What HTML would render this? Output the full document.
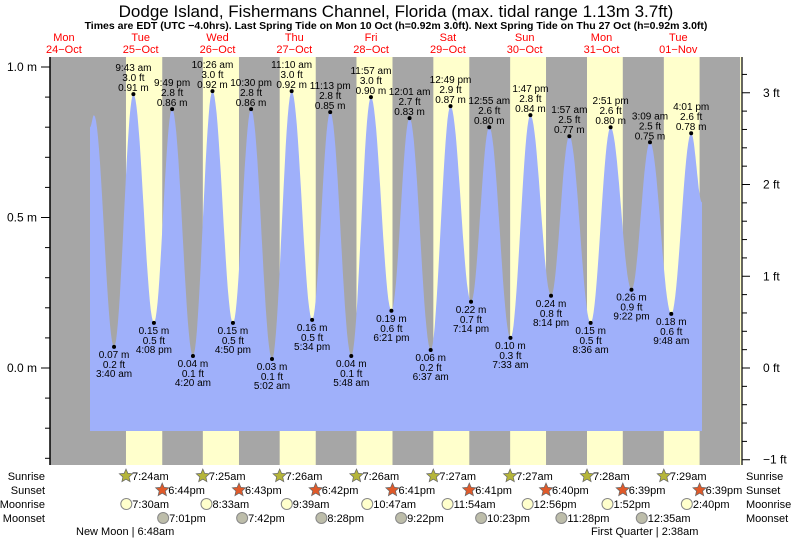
<!DOCTYPE html>
<html><head><meta charset="utf-8"><style>
body{margin:0;background:#fff;}
svg{display:block;font-family:"Liberation Sans",sans-serif;}
</style></head><body>
<svg id="c" width="793" height="539" viewBox="0 0 793 539">
<text x="396" y="17" font-size="17" text-anchor="middle" fill="#000">Dodge Island, Fishermans Channel, Florida (max. tidal range 1.13m 3.7ft)</text>
<text x="396" y="29" font-size="10.5" font-weight="bold" text-anchor="middle" fill="#000">Times are EDT (UTC −4.0hrs). Last Spring Tide on Mon 10 Oct (h=0.92m 3.0ft). Next Spring Tide on Thu 27 Oct (h=0.92m 3.0ft)</text>
<g id="bg"></g><g id="tide"></g><g id="axes"></g><g id="labels"></g><g id="bottom"></g>
</svg>
<script>
const dayNames=["Mon","Tue","Wed","Thu","Fri","Sat","Sun","Mon","Tue"];
const dayDates=["24−Oct","25−Oct","26−Oct","27−Oct","28−Oct","29−Oct","30−Oct","31−Oct","01−Nov"];
// tide extremes: hours since Oct 24 00:00, heights (m)
const tideHours=[20.16,21.4,27.67,33.72,40.13,45.82,52.33,58.43,64.83,70.5,77.03,83.17,89.57,95.22,101.8,107.95,114.35,120.02,126.62,132.82,139.23,144.92,151.55,157.78,164.23,169.95,176.6,182.85,189.37,195.15,201.8,208.02,211.4];
const tideHeights=[0.80,0.84,0.07,0.91,0.15,0.86,0.04,0.92,0.15,0.86,0.03,0.92,0.16,0.85,0.04,0.90,0.19,0.83,0.06,0.87,0.22,0.80,0.10,0.84,0.24,0.77,0.15,0.80,0.26,0.75,0.18,0.78,0.55];
const tideLabelIdx=[2,3,4,5,6,7,8,9,10,11,12,13,14,15,16,17,18,19,20,21,22,23,24,25,26,27,28,29,30,31];
const tideTimes=["3:40 am","9:43 am","4:08 pm","9:49 pm","4:20 am","10:26 am","4:50 pm","10:30 pm","5:02 am","11:10 am","5:34 pm","11:13 pm","5:48 am","11:57 am","6:21 pm","12:01 am","6:37 am","12:49 pm","7:14 pm","12:55 am","7:33 am","1:47 pm","8:14 pm","1:57 am","8:36 am","2:51 pm","9:22 pm","3:09 am","9:48 am","4:01 pm"];
const tideFt=["0.2","3.0","0.5","2.8","0.1","3.0","0.5","2.8","0.1","3.0","0.5","2.8","0.1","3.0","0.6","2.7","0.2","2.9","0.7","2.6","0.3","2.8","0.8","2.5","0.5","2.6","0.9","2.5","0.6","2.6"];
const sunrise=["7:24am","7:25am","7:26am","7:26am","7:27am","7:27am","7:28am","7:29am"];
const sunset=["6:44pm","6:43pm","6:42pm","6:41pm","6:41pm","6:40pm","6:39pm","6:39pm"];
const moonrise=["7:30am","8:33am","9:39am","10:47am","11:54am","12:56pm","1:52pm","2:40pm"];
const moonset=["7:01pm","7:42pm","8:28pm","9:22pm","10:23pm","11:28pm","12:35am"];
const moonsetDay=[1,2,3,4,5,6,8];
const leftTicks=[1.0,0.5,0.0];
const rightTicks=[3,2,1,0,-1];

const NS="http://www.w3.org/2000/svg";
function mk(p,t,a,txt){const e=document.createElementNS(NS,t);for(const k in a)e.setAttribute(k,a[k]);if(txt!==undefined)e.textContent=txt;p.appendChild(e);return e;}
const X=h=>25.5+h*3.2;
const Y=m=>368-m*301;
const PL=50,PR=742,PT=57,PB=465;
function hrs(s){const m=s.match(/(\d+):(\d+)\s*(am|pm)/);let h=+m[1]%12;if(m[3]=="pm")h+=12;return h+ +m[2]/60;}

const bg=document.getElementById('bg');
let r=mk(bg,'rect',{x:PL,y:PT,width:PR-PL,height:PB-PT,fill:'#a6a6a6'});


for(let i=0;i<8;i++){const d=i+1;const x1=X(24*d+hrs(sunrise[i])),x2=X(24*d+hrs(sunset[i]));
 const e=mk(bg,'rect',{x:x1,y:PT,width:x2-x1,height:PB-PT,fill:'#ffffcc'});
 
 }
r=mk(bg,'rect',{x:740,y:PT,width:2,height:PB-PT,fill:'#ffffcc'});


for(let d=0;d<9;d++){const x=X(24*d+12);
 let t=mk(bg,'text',{x:x,y:41,'font-size':11,fill:'#ff0000','text-anchor':'middle'},dayNames[d]);
 
 
 t=mk(bg,'text',{x:x,y:53,'font-size':11,fill:'#ff0000','text-anchor':'middle'},dayDates[d]);
 
 }

// tide curve
const tg=document.getElementById('tide');
let pts=[];
for(let i=0;i<tideHours.length-1;i++){const h0=tideHours[i],h1=tideHours[i+1],a=tideHeights[i],b=tideHeights[i+1];
 for(let k=0;k<=20;k++){const f=k/20;const h=h0+(h1-h0)*f;const v=a+(b-a)*(1-Math.cos(Math.PI*f))/2;pts.push([X(h),Y(v)]);}}
const base=431;
let d='M'+pts[0][0].toFixed(1)+','+base+' '+pts.map(p=>'L'+p[0].toFixed(1)+','+p[1].toFixed(1)).join(' ')+' L'+pts[pts.length-1][0].toFixed(1)+','+base+' Z';
const tp=mk(tg,'path',{d:d,fill:'#9fb0fa'});



// axes
const ax=document.getElementById('axes');
let l=mk(ax,'line',{x1:PL,y1:PT,x2:PL,y2:PB,stroke:'#000','stroke-width':1.5});


l=mk(ax,'line',{x1:PR,y1:PT,x2:PR,y2:PB,stroke:'#333','stroke-width':1.5});


for(let v=-3;v<=10;v++){const y=Y(v/10);if(y<PT||y>PB)continue;const maj=v%5==0;
 mk(ax,'line',{x1:maj?41:45,y1:y,x2:PL,y2:y,stroke:'#000','stroke-width':1});}
leftTicks.forEach(v=>{const t=mk(ax,'text',{x:37,y:Y(v)+4,'font-size':12,'text-anchor':'end',fill:'#000'},v.toFixed(1)+' m');
 
 });
for(let v=-10;v<=34;v+=2){const y=Y(v/10*0.3048);if(y<PT||y>PB)continue;const maj=v%10==0;
 mk(ax,'line',{x1:PR,y1:y,x2:maj?750:747,y2:y,stroke:'#000','stroke-width':1});}
rightTicks.forEach(v=>{const t=mk(ax,'text',{x:763,y:Y(v*0.3048)+4,'font-size':12,fill:'#000'},(v<0?'−'+(-v):v)+' ft');
 
 });

// tide labels
const lg=document.getElementById('labels');
tideLabelIdx.forEach((idx,j)=>{const h=tideHours[idx],v=tideHeights[idx];const x=X(h),y=Y(v);
 const high=v>0.5;
 const c=mk(lg,'circle',{cx:x,cy:y,r:2,fill:'#000'});
 
 
 const lines=high?[[tideTimes[j],-23],[tideFt[j]+' ft',-13],[v.toFixed(2)+' m',-3]]:[[v.toFixed(2)+' m',11],[tideFt[j]+' ft',21],[tideTimes[j],30]];
 lines.forEach(L=>{const t=mk(lg,'text',{x:x,y:y+L[1],'font-size':10,'text-anchor':'middle',fill:'#000'},L[0]);
  
  });});

// bottom rows
const bt=document.getElementById('bottom');
const rowY=[476,490,504,518];const rowN=["Sunrise","Sunset","Moonrise","Moonset"];
rowN.forEach((n,i)=>{let t=mk(bt,'text',{x:45,y:rowY[i]+4,'font-size':11,'text-anchor':'end',fill:'#000'},n);
 
 
 t=mk(bt,'text',{x:746,y:rowY[i]+4,'font-size':11,fill:'#000'},n);
 
 });
function star(x,y,fill){let p='';for(let k=0;k<10;k++){const a=-Math.PI/2+k*Math.PI/5;const rr=k%2?3.2:7;p+=(x+rr*Math.cos(a)).toFixed(1)+','+(y+rr*Math.sin(a)).toFixed(1)+' ';}
 return mk(bt,'polygon',{points:p,fill:fill,stroke:'#666','stroke-width':0.7});}
function icon(h,y,kind,txt){const x=X(h);let e;
 if(kind=='sr')e=star(x,y,'#b5b53a');else if(kind=='ss')e=star(x,y,'#e05a2a');
 else e=mk(bt,'circle',{cx:x,cy:y,r:5.5,fill:kind=='mr'?'#ffffcc':'#bdbdaa',stroke:'#888','stroke-width':1});
 
 
 const t=mk(bt,'text',{x:x+6,y:y+4,'font-size':11,fill:'#000'},txt);
 
 }
for(let i=0;i<8;i++){const d=i+1;
 icon(24*d+hrs(sunrise[i]),rowY[0],'sr',sunrise[i]);
 icon(24*d+hrs(sunset[i]),rowY[1],'ss',sunset[i]);
 icon(24*d+hrs(moonrise[i]),rowY[2],'mr',moonrise[i]);}
moonset.forEach((s,i)=>icon(24*moonsetDay[i]+hrs(s),rowY[3],'ms',s));
let t=mk(bt,'text',{x:76,y:535,'font-size':11,fill:'#000'},'New Moon | 6:48am');


t=mk(bt,'text',{x:591,y:535,'font-size':11,fill:'#000'},'First Quarter | 2:38am');


</script>
</body></html>
